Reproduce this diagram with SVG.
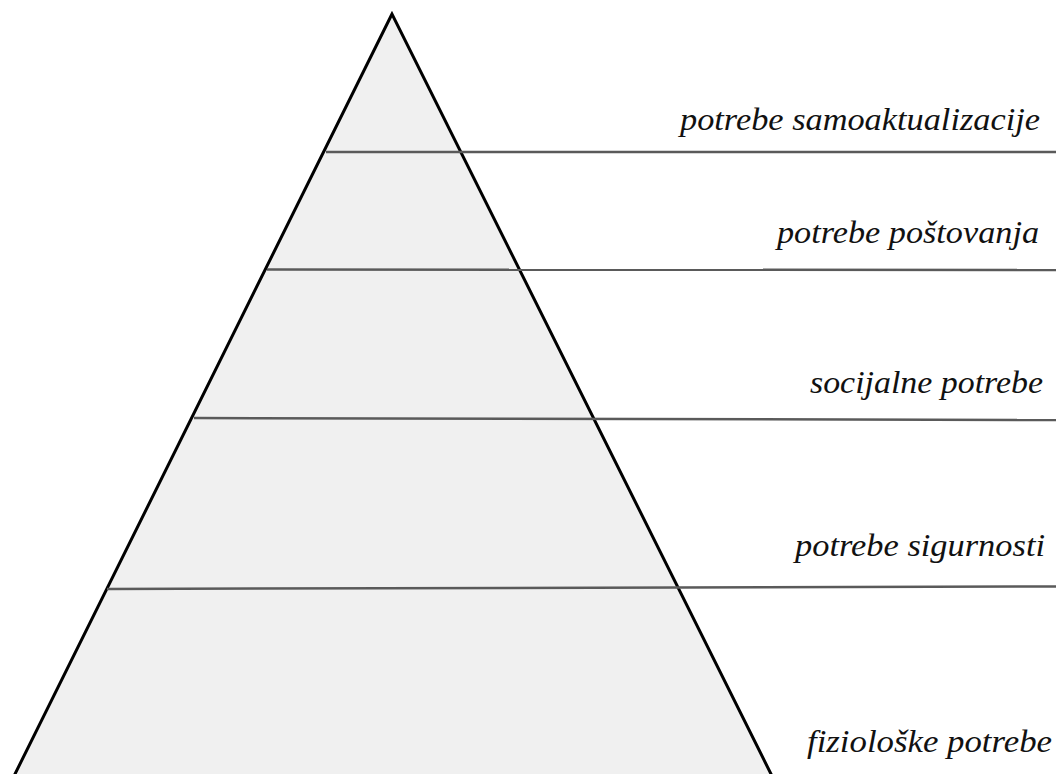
<svg xmlns="http://www.w3.org/2000/svg" width="1060" height="774" viewBox="0 0 1060 774">
<style>
.lvl{stroke:#5a5a5a;stroke-width:2.5;fill:none}
</style>
<rect width="1060" height="774" fill="#ffffff"/>
<g id="pyramid">
<polygon points="392,14 14,776 772,776" fill="#f0f0f0" stroke="#000" stroke-width="3" stroke-linejoin="miter"/>
</g>
<g id="connectors">
<line class="lvl" x1="326" y1="152" x2="1056" y2="152"/>
<line class="lvl" x1="267" y1="269.5" x2="1056" y2="270"/>
<line class="lvl" x1="194" y1="418" x2="1056" y2="420"/>
<line class="lvl" x1="107" y1="589" x2="1056" y2="586.5"/>
</g>
<g font-family="Liberation Serif, serif" font-style="italic" font-size="31" fill="#111">
<g id="level5"><text x="680" y="130" textLength="360" lengthAdjust="spacingAndGlyphs">potrebe samoaktualizacije</text></g>
<g id="level4"><text x="777" y="243" textLength="262" lengthAdjust="spacingAndGlyphs">potrebe poštovanja</text></g>
<g id="level3"><text x="810" y="393" textLength="233" lengthAdjust="spacingAndGlyphs">socijalne potrebe</text></g>
<g id="level2"><text x="795" y="556" textLength="250" lengthAdjust="spacingAndGlyphs">potrebe sigurnosti</text></g>
<g id="level1"><text x="807" y="752" textLength="245" lengthAdjust="spacingAndGlyphs">fiziološke potrebe</text></g>
</g>
</svg>
